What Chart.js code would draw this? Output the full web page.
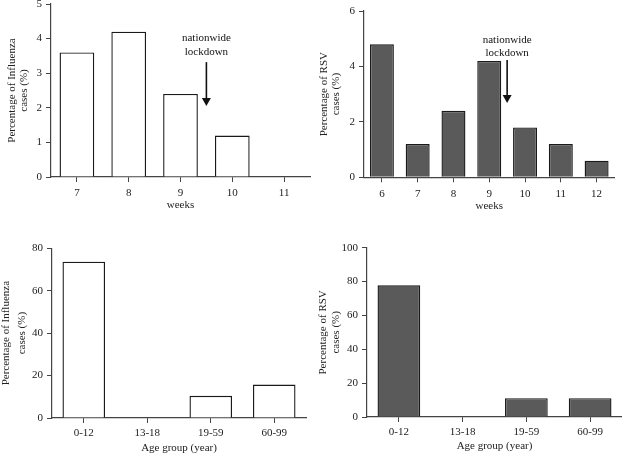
<!DOCTYPE html>
<html>
<head>
<meta charset="utf-8">
<script src="https://cdn.jsdelivr.net/npm/chart.js@4/dist/chart.umd.min.js"></script>
<style>
  html, body { margin: 0; padding: 0; background: #fff; overflow: hidden; }
  body { width: 622px; height: 455px; position: relative; }
  .panel { position: absolute; }
</style>
</head>
<body>
<div class="panel" id="p1"><canvas id="c1"></canvas></div>
<div class="panel" id="p2"><canvas id="c2"></canvas></div>
<div class="panel" id="p3"><canvas id="c3"></canvas></div>
<div class="panel" id="p4"><canvas id="c4"></canvas></div>
<script>
// ---- Data ----
const fluWeeks = ['7', '8', '9', '10', '11'];
const fluWeekValues = [3.6, 4.2, 2.4, 1.2, 0];
const fluWeekTicks = [0, 1, 2, 3, 4, 5];

const rsvWeeks = ['6', '7', '8', '9', '10', '11', '12'];
const rsvWeekValues = [4.8, 1.2, 2.4, 4.2, 1.8, 1.2, 0.6];
const rsvWeekTicks = [0, 2, 4, 6];

const ageGroups = ['0-12', '13-18', '19-59', '60-99'];
const fluAgeValues = [73.7, 0, 10.5, 15.8];
const fluAgeTicks = [0, 20, 40, 60, 80];
const rsvAgeValues = [77.8, 0, 11.1, 11.1];
const rsvAgeTicks = [0, 20, 40, 60, 80, 100];

const lockdownText = ['nationwide', 'lockdown'];
// lockdown annotation placed between week 9 and week 10 (in data units)
const fluLockdown = { between: ['9', '10'], textY: [4.0, 3.6], arrowFrom: 3.32, arrowTo: 2.05 };
const rsvLockdown = { between: ['9', '10'], textY: [4.96, 4.49], arrowFrom: 4.23, arrowTo: 2.68 };

const FONT = "'Liberation Serif', 'DejaVu Serif', serif";
const TEXT = '#222';
const AXIS = '#444';

const lockdownPlugin = {
  id: 'lockdown',
  afterDatasetsDraw(chart, args, opts) {
    if (!opts || !opts.between) return;
    const { ctx, scales: { x, y } } = chart;
    const labels = chart.data.labels;
    const i0 = labels.indexOf(opts.between[0]);
    const i1 = labels.indexOf(opts.between[1]);
    const px = (x.getPixelForValue(i0) + x.getPixelForValue(i1)) / 2;
    ctx.save();
    ctx.fillStyle = '#111';
    ctx.font = '11px ' + FONT;
    ctx.textAlign = 'center';
    ctx.textBaseline = 'middle';
    lockdownText.forEach((t, k) => ctx.fillText(t, px, y.getPixelForValue(opts.textY[k])));
    const yTop = y.getPixelForValue(opts.arrowFrom);
    const yTip = y.getPixelForValue(opts.arrowTo);
    ctx.strokeStyle = '#111';
    ctx.lineWidth = 1.6;
    ctx.beginPath();
    ctx.moveTo(px, yTop);
    ctx.lineTo(px, yTip - 7);
    ctx.stroke();
    ctx.beginPath();
    ctx.moveTo(px - 4.5, yTip - 8);
    ctx.lineTo(px + 4.5, yTip - 8);
    ctx.lineTo(px, yTip);
    ctx.closePath();
    ctx.fill();
    ctx.restore();
  }
};

function makeChart(id, panelId, geo, labels, values, ticks, fill, xTitle, yTitle, lockdown) {
  const panel = document.getElementById(panelId);
  panel.style.left = geo.cx + 'px';
  panel.style.top = geo.cy + 'px';
  panel.style.width = geo.cw + 'px';
  panel.style.height = geo.ch + 'px';
  const yLH = geo.yLH;
  const xLH = 12;
  return new Chart(document.getElementById(id), {
    type: 'bar',
    data: {
      labels: labels,
      datasets: [{
        data: values,
        backgroundColor: fill,
        borderColor: '#1a1a1a',
        borderWidth: 1.4,
        borderSkipped: 'bottom',
        barPercentage: 0.67,
        categoryPercentage: 1.0
      }]
    },
    options: {
      responsive: true,
      maintainAspectRatio: false,
      animation: false,
      devicePixelRatio: 1,
      layout: {
        padding: { left: 0, top: geo.T - geo.cy, right: geo.cx + geo.cw - geo.R, bottom: 0 }
      },
      plugins: {
        legend: { display: false },
        tooltip: { enabled: false },
        lockdown: lockdown || {}
      },
      scales: {
        x: {
          type: 'category',
          offset: true,
          afterFit(s) { s.height = geo.cy + geo.ch - geo.B; },
          grid: { display: true, drawOnChartArea: false, drawTicks: true, tickLength: 5, offset: false, color: AXIS, lineWidth: 1 },
          border: { display: true, color: AXIS, width: 1.2 },
          ticks: { color: TEXT, font: { family: FONT, size: 11 }, padding: geo.xTickPad, maxRotation: 0, autoSkip: false },
          title: {
            display: true, text: xTitle, color: TEXT,
            font: { family: FONT, size: 11, lineHeight: xLH / 11 },
            padding: { top: 0, bottom: geo.cy + geo.ch - geo.xTitleY - xLH / 2 }
          }
        },
        y: {
          min: ticks[0],
          max: ticks[ticks.length - 1],
          afterFit(s) { s.width = geo.L - geo.cx; },
          afterBuildTicks(s) { s.ticks = ticks.map(v => ({ value: v })); },
          grid: { display: true, drawOnChartArea: false, drawTicks: true, tickLength: 5, color: AXIS, lineWidth: 1 },
          border: { display: true, color: AXIS, width: 1.2 },
          ticks: { color: TEXT, font: { family: FONT, size: 11 }, padding: 4 },
          title: {
            display: true, text: yTitle, color: TEXT,
            font: { family: FONT, size: 11, lineHeight: yLH / 11 },
            padding: { top: geo.yTitleX - geo.cx - yLH / 2, bottom: 0 }
          }
        }
      }
    },
    plugins: [lockdownPlugin]
  });
}

makeChart('c1', 'p1',
  { cx: -10, cy: -20, cw: 321, ch: 248, L: 51, T: 4, R: 310, B: 177, yTitleX: 12.3, yLH: 11.4, xTitleY: 205, xTickPad: 5 },
  fluWeeks, fluWeekValues, fluWeekTicks, '#ffffff', 'weeks',
  ['Percentage of Influenza', 'cases (%)'], fluLockdown);

makeChart('c2', 'p2',
  { cx: 311, cy: -20, cw: 311, ch: 248, L: 364, T: 11, R: 614.5, B: 177.3, yTitleX: 324.3, yLH: 11.7, xTitleY: 205.7, xTickPad: 5 },
  rsvWeeks, rsvWeekValues, rsvWeekTicks, '#5a5a5a', 'weeks',
  ['Percentage of RSV', 'cases (%)'], rsvLockdown);

makeChart('c3', 'p3',
  { cx: -10, cy: 228, cw: 321, ch: 227, L: 52, T: 248.3, R: 306, B: 418, yTitleX: 5.8, yLH: 16, xTitleY: 448, xTickPad: 4 },
  ageGroups, fluAgeValues, fluAgeTicks, '#ffffff', 'Age group (year)',
  ['Percentage of Influenza', 'cases (%)'], null);

makeChart('c4', 'p4',
  { cx: 311, cy: 228, cw: 311, ch: 227, L: 367, T: 247.7, R: 622, B: 417, yTitleX: 323, yLH: 13.5, xTitleY: 446.3, xTickPad: 4 },
  ageGroups, rsvAgeValues, rsvAgeTicks, '#5a5a5a', 'Age group (year)',
  ['Percentage of RSV', 'cases (%)'], null);
</script>
</body>
</html>
